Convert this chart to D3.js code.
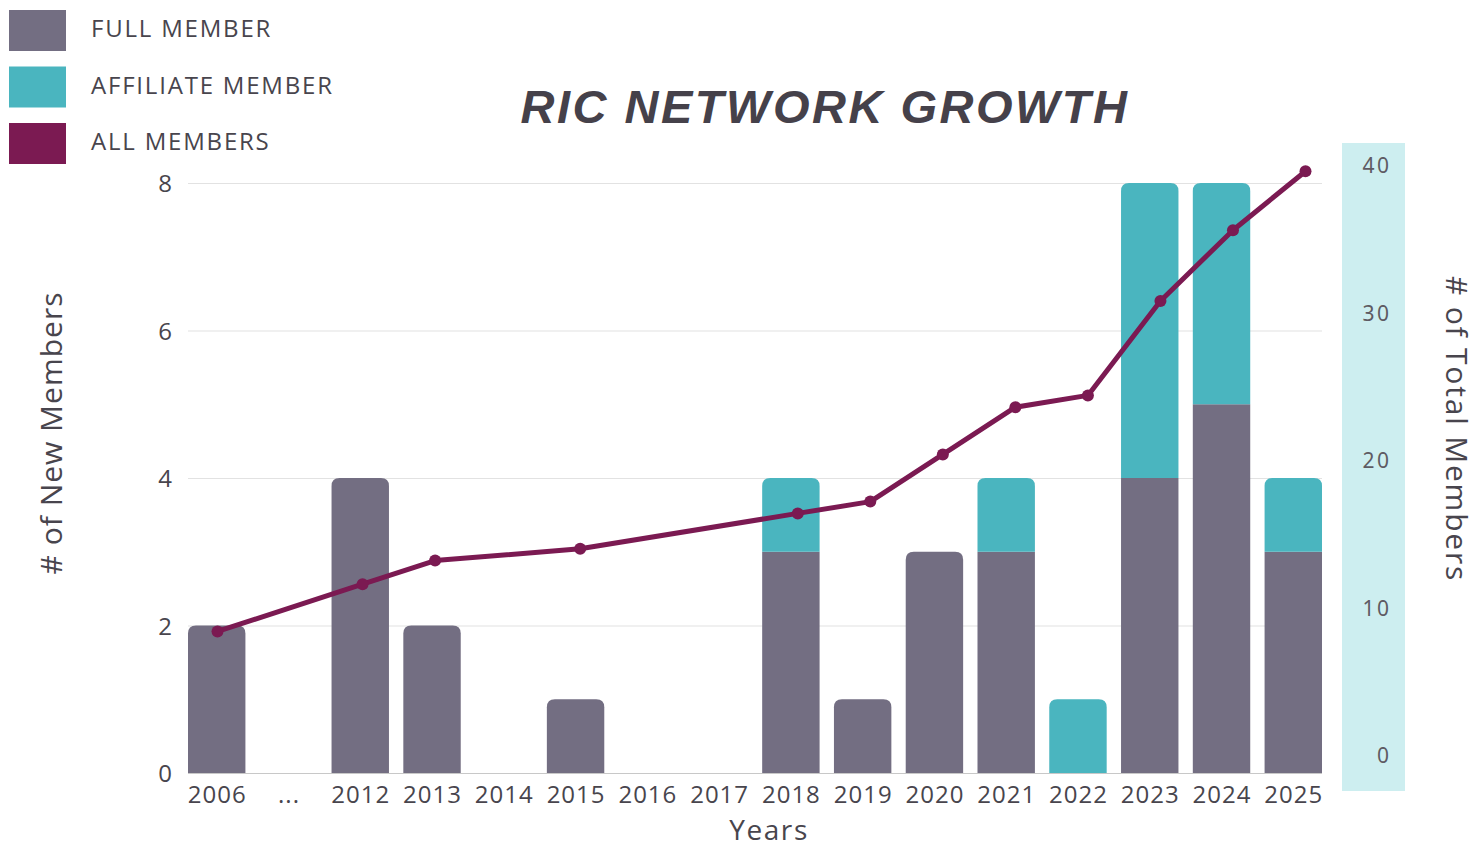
<!DOCTYPE html>
<html>
<head>
<meta charset="utf-8">
<script src="https://cdn.jsdelivr.net/npm/d3@7"></script>
<style>
  html, body { margin: 0; padding: 0; background: #ffffff; }
  svg { display: block; }
</style>
</head>
<body>
<svg id="chart" width="1478" height="849"></svg>
<script>
// ---- DATA ----
const categories = ["2006", "...", "2012", "2013", "2014", "2015", "2016", "2017", "2018", "2019", "2020", "2021", "2022", "2023", "2024", "2025"];
const fullMembers      = [2, 0, 4, 2, 0, 1, 0, 0, 3, 1, 3, 3, 0, 4, 5, 3];
const affiliateMembers = [0, 0, 0, 0, 0, 0, 0, 0, 1, 0, 0, 1, 1, 4, 3, 1];
const allMembers       = [2, null, 6, 8, null, 9, null, null, 12, 13, 17, 21, 22, 30, 36, 41];
const leftTicks  = [0, 2, 4, 6, 8];
const rightTicks = [0, 10, 20, 30, 40];
const legendItems = ["FULL MEMBER", "AFFILIATE MEMBER", "ALL MEMBERS"];

// ---- STYLE ----
const colors = { full: "#736e82", affiliate: "#4ab5bf", all: "#7b1a52", band: "#cdeef0", text: "#48454d" };
const FONT = "'Open Sans', 'Noto Sans', sans-serif";

const svg = d3.select("#chart");
const plot = { left: 188, right: 1322, top: 183, bottom: 773 };

const x = d3.scaleBand().domain(categories).range([plot.left, plot.right]).paddingInner(0.2).paddingOuter(0);
const xLine = d3.scalePoint().domain(categories).range([217.5, 1305.5]);
const yLeft = d3.scaleLinear().domain([0, 8]).range([plot.bottom, plot.top]);
const yLine = d3.scaleLinear().domain([-10, 40]).range([plot.bottom, plot.top]);
const yRightAxis = d3.scaleLinear().domain([0, 40]).range([755, 165]);

// right axis band
svg.append("rect").attr("x", 1342).attr("y", 143).attr("width", 63).attr("height", 648).attr("fill", colors.band);

// gridlines
svg.append("g").selectAll("line").data(leftTicks).join("line")
  .attr("x1", plot.left).attr("x2", plot.right)
  .attr("y1", d => yLeft(d) + 0.5).attr("y2", d => yLeft(d) + 0.5)
  .attr("stroke", d => d === 0 ? "#c8c8c8" : "#e2e2e2").attr("stroke-width", 1.2);

// bars
function topRounded(x0, y0, w, h, r) {
  if (h <= 0) return "";
  r = Math.min(r, h, w / 2);
  return `M${x0},${y0 + h}V${y0 + r}Q${x0},${y0} ${x0 + r},${y0}H${x0 + w - r}Q${x0 + w},${y0} ${x0 + w},${y0 + r}V${y0 + h}Z`;
}
const stackData = categories.map((c, i) => ({ cat: c, full: fullMembers[i], affiliate: affiliateMembers[i] }));
const bw = x.bandwidth();
const bars = svg.append("g");
stackData.forEach(d => {
  const x0 = x(d.cat);
  const total = d.full + d.affiliate;
  if (d.full > 0) {
    const y0 = yLeft(d.full), h = yLeft(0) - y0;
    const r = d.affiliate > 0 ? 0 : 8;
    bars.append("path").attr("d", topRounded(x0, y0, bw, h, r)).attr("fill", colors.full);
  }
  if (d.affiliate > 0) {
    const y0 = yLeft(total), h = yLeft(d.full) - y0;
    bars.append("path").attr("d", topRounded(x0, y0, bw, h, 8)).attr("fill", colors.affiliate);
  }
});

// line
const linePts = categories.map((c, i) => ({ cat: c, v: allMembers[i] })).filter(d => d.v !== null);
svg.append("path").datum(linePts)
  .attr("d", d3.line().x(d => xLine(d.cat)).y(d => yLine(d.v)))
  .attr("fill", "none").attr("stroke", colors.all).attr("stroke-width", 5).attr("stroke-linejoin", "round");
svg.append("g").selectAll("circle").data(linePts).join("circle")
  .attr("cx", d => xLine(d.cat)).attr("cy", d => yLine(d.v)).attr("r", 6).attr("fill", colors.all);

// left axis labels
const leftAxis = d3.axisLeft(yLeft).tickValues(leftTicks).tickSize(0).tickPadding(0);
const gl = svg.append("g").attr("transform", "translate(172,0)").call(leftAxis);
gl.select(".domain").remove();
gl.selectAll("text").attr("font-family", FONT).attr("font-size", 24).attr("fill", colors.text).attr("dy", "0.36em");

// bottom axis labels
const bottomAxis = d3.axisBottom(x).tickSize(0).tickPadding(0);
const gb = svg.append("g").attr("transform", `translate(0,${plot.bottom + 12})`).call(bottomAxis);
gb.select(".domain").remove();
gb.selectAll("text").attr("font-family", FONT).attr("font-size", 24).attr("fill", colors.text)
  .attr("dy", "0.75em").attr("letter-spacing", 1).attr("dx", 0.5);

// right axis labels
const rightAxis = d3.axisRight(yRightAxis).tickValues(rightTicks).tickSize(0).tickPadding(0);
const gr = svg.append("g").attr("transform", "translate(1389,0)").call(rightAxis);
gr.select(".domain").remove();
gr.selectAll("text").attr("text-anchor", "end").attr("font-family", "'Noto Sans', sans-serif")
  .attr("font-size", 21).attr("fill", "#5e5b63").attr("dy", "0.36em").attr("letter-spacing", 2.5).attr("dx", 2.5);

// axis titles
svg.append("text").attr("transform", "translate(62,433) rotate(-90)").attr("text-anchor", "middle")
  .attr("font-family", FONT).attr("font-size", 30).attr("letter-spacing", 1).attr("fill", colors.text).text("# of New Members");
svg.append("text").attr("transform", "translate(1446,429) rotate(90)").attr("text-anchor", "middle")
  .attr("font-family", FONT).attr("font-size", 30).attr("letter-spacing", 1.8).attr("fill", colors.text).text("# of Total Members");
svg.append("text").attr("x", 769).attr("y", 840).attr("text-anchor", "middle")
  .attr("font-family", FONT).attr("font-size", 28).attr("letter-spacing", 1.6).attr("fill", colors.text).text("Years");

// title
svg.append("text").attr("x", 825).attr("y", 123).attr("text-anchor", "middle")
  .attr("font-family", "'Liberation Sans', Arial, sans-serif").attr("font-weight", "bold").attr("font-style", "italic")
  .attr("font-size", 47).attr("letter-spacing", 2.5).attr("fill", "#45414a").text("RIC NETWORK GROWTH");

// legend
const legendColors = [colors.full, colors.affiliate, colors.all];
const lg = svg.append("g");
legendItems.forEach((t, i) => {
  const yy = 10 + i * 56.5;
  lg.append("rect").attr("x", 9).attr("y", yy).attr("width", 57).attr("height", 41).attr("fill", legendColors[i]);
  lg.append("text").attr("x", 91).attr("y", yy + 27).attr("font-family", FONT).attr("font-size", 24)
    .attr("letter-spacing", 1.8).attr("fill", colors.text).text(t);
});
</script>
</body>
</html>
